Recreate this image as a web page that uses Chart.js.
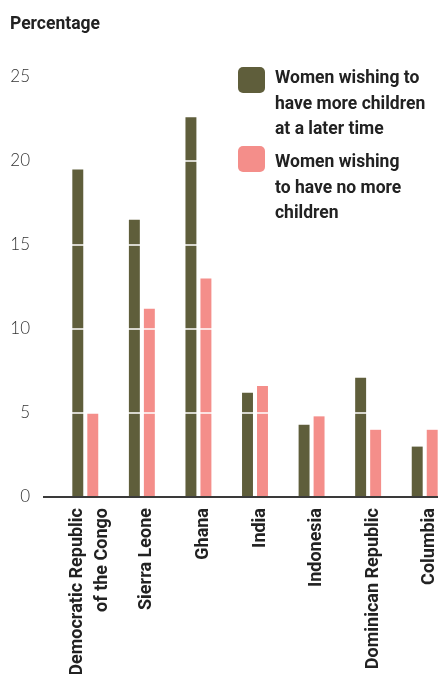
<!DOCTYPE html>
<html>
<head>
<meta charset="utf-8">
<script src="https://cdn.jsdelivr.net/npm/chart.js@4.4.1/dist/chart.umd.min.js"></script>
<style>
    body { margin: 0; background: #fff; overflow: hidden; font-family: Roboto, sans-serif; color: #222; }
    #wrap { position: relative; width: 438px; height: 674px; overflow: hidden; }
    #title { position: absolute; left: 10px; top: 13px; font-size: 17.5px; line-height: 20px; font-weight: bold; }
    .legend-item { position: absolute; left: 238px; }
    .swatch { position: absolute; left: 0; width: 27px; height: 26px; border-radius: 5px; }
    .legend-text { position: absolute; left: 37px; width: 190px; font-size: 17.5px; line-height: 25.5px; font-weight: bold; }
    canvas { position: absolute; left: 0; top: 0; }
</style>
</head>
<body>
<div id="wrap">
    <canvas id="chart" width="453" height="674"></canvas>
    <div id="title">Percentage</div>
    <div class="legend-item" style="top: 65px;">
        <div class="swatch" style="top: 2px; background: #5f5e3b;"></div>
        <div class="legend-text" style="top: 0;">Women wishing to<br>have more children<br>at a later time</div>
    </div>
    <div class="legend-item" style="top: 146px;">
        <div class="swatch" style="top: 0; background: #f48e8a;"></div>
        <div class="legend-text" style="top: 3px;">Women wishing<br>to have no more<br>children</div>
    </div>
</div>
<script>
// Unmet need for family planning

const countries = [
    ['Democratic Republic', 'of the Congo'],
    'Sierra Leone',
    'Ghana',
    'India',
    'Indonesia',
    'Dominican Republic',
    'Columbia'
];
const moreLater = [19.5, 16.5, 22.6, 6.2, 4.3, 7.1, 3.0];
const noMore = [5.0, 11.2, 13.0, 6.6, 4.8, 4.0, 4.0];
const yTicks = [0, 5, 10, 15, 20, 25];

// dark axis line under the bars, starting a bit left of the plot,
// plus white gridlines cutting through the bars
const overlay = {
    id: 'overlay',
    afterDatasetsDraw(chart) {
        const yScale = chart.scales.y;
        const area = chart.chartArea;
        const c = chart.ctx;
        c.save();
        c.strokeStyle = '#ffffff';
        c.lineWidth = 1.5;
        yScale.ticks.forEach(t => {
            if (t.value === 0) return;
            const y = yScale.getPixelForValue(t.value);
            c.beginPath();
            c.moveTo(area.left, y);
            c.lineTo(area.right, y);
            c.stroke();
        });
        const y0 = yScale.getPixelForValue(0);
        c.strokeStyle = '#3a3a3a';
        c.lineWidth = 2;
        c.beginPath();
        c.moveTo(43, y0);
        c.lineTo(chart.width, y0);
        c.stroke();
        c.restore();
    }
};

// chart.js puts the first line of a rotated label on the tick; centre multi-line ones
const centreLabels = {
    id: 'centreLabels',
    beforeDraw(chart) {
        const items = chart.scales.x.getLabelItems();
        items.forEach(item => {
            const opts = item.options;
            if (Array.isArray(item.label) && opts && opts.translation && !item._centred) {
                opts.translation[0] -= (item.label.length - 1) * item.font.lineHeight / 2;
                item._centred = true;
            }
        });
    }
};

new Chart(document.getElementById('chart'), {
    type: 'bar',
    data: {
        labels: countries,
        datasets: [
            {
                label: 'Women wishing to have more children at a later time',
                data: moreLater,
                backgroundColor: '#5f5e3b',
                categoryPercentage: 0.53,
                barPercentage: 0.73
            },
            {
                label: 'Women wishing to have no more children',
                data: noMore,
                backgroundColor: '#f48e8a',
                categoryPercentage: 0.53,
                barPercentage: 0.73
            }
        ]
    },
    options: {
        responsive: false,
        animation: false,
        layout: { padding: { top: 77, left: 0, right: 0, bottom: 0 } },
        plugins: {
            legend: { display: false },
            tooltip: { enabled: false }
        },
        scales: {
            x: {
                grid: { display: false },
                border: { display: false },
                ticks: {
                    color: '#222',
                    font: { family: 'Roboto', size: 18, weight: 'bold', lineHeight: 1.4 },
                    minRotation: 90,
                    maxRotation: 90,
                    padding: 3,
                    labelOffset: 5
                },
                afterFit: s => { s.height = 177; }
            },
            y: {
                min: 0,
                max: 25,
                afterBuildTicks: s => { s.ticks = yTicks.map(v => ({ value: v })); },
                grid: { display: false },
                border: { display: false },
                ticks: {
                    color: '#333',
                    font: { family: 'Lato', size: 17, weight: '300' },
                    padding: 19
                },
                afterFit: s => { s.width = 57; }
            }
        }
    },
    plugins: [overlay, centreLabels]
});
</script>
</body>
</html>
